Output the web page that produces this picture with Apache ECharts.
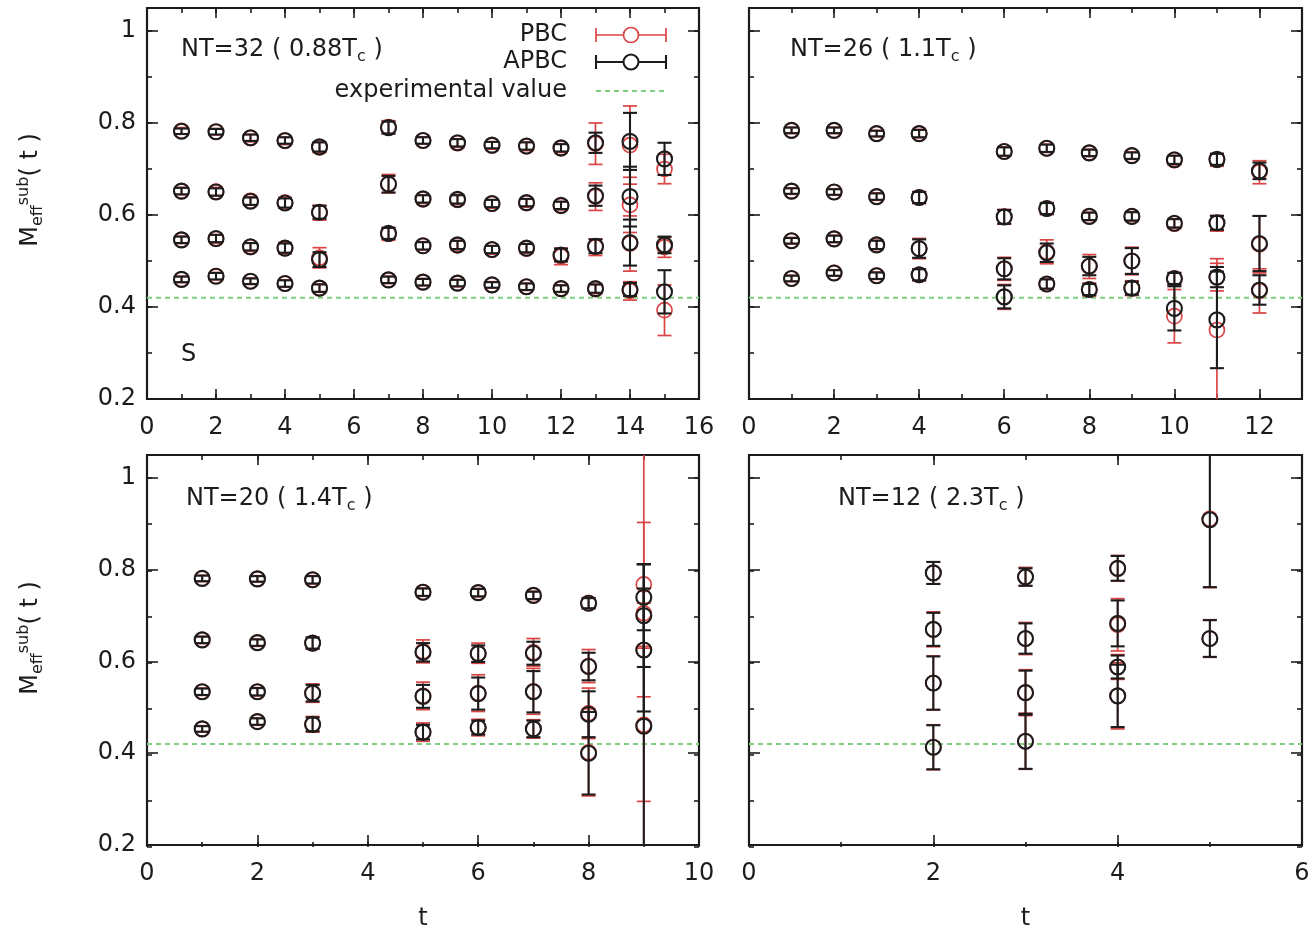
<!DOCTYPE html>
<html lang="en">
<head>
<meta charset="utf-8">
<title>Subtracted effective mass, PBC vs APBC</title>
<script src="https://cdn.jsdelivr.net/npm/echarts@6.0.0/dist/echarts.min.js"></script>
<style>
  html, body { margin: 0; padding: 0; background: #ffffff; }
  #chart { width: 1316px; height: 932px; }
</style>
</head>
<body>
<div id="chart"></div>
<script>
// ---------------------------------------------------------------
// Data: each row is [t, M_eff^sub(t), error]; four states per t.
// ---------------------------------------------------------------

// NT=32 (0.88 Tc)
const nt32Pbc = [
  [1,0.783,0.007],[2,0.781,0.007],[3,0.767,0.008],[4,0.761,0.008],[5,0.747,0.011],[7,0.791,0.014],[8,0.762,0.008],
  [9,0.756,0.009],[10,0.751,0.008],[11,0.749,0.009],[12,0.745,0.009],[13,0.755,0.045],[14,0.752,0.085],[15,0.700,0.032],
  [1,0.652,0.008],[2,0.651,0.009],[3,0.631,0.009],[4,0.627,0.011],[5,0.605,0.016],[7,0.668,0.020],[8,0.634,0.009],
  [9,0.633,0.010],[10,0.624,0.009],[11,0.626,0.009],[12,0.620,0.009],[13,0.640,0.030],[14,0.622,0.060],
  [1,0.546,0.008],[2,0.548,0.009],[3,0.530,0.009],[4,0.528,0.012],[5,0.507,0.022],[7,0.559,0.014],[8,0.533,0.009],
  [9,0.534,0.010],[10,0.524,0.009],[11,0.527,0.010],[12,0.510,0.018],[13,0.530,0.018],[14,0.538,0.060],[15,0.530,0.022],
  [1,0.460,0.007],[2,0.467,0.008],[3,0.456,0.007],[4,0.451,0.008],[5,0.441,0.009],[7,0.459,0.008],[8,0.454,0.008],
  [9,0.452,0.008],[10,0.448,0.007],[11,0.444,0.008],[12,0.440,0.008],[13,0.439,0.010],[14,0.435,0.020],[15,0.393,0.055]
];
const nt32Apbc = [
  [1,0.782,0.006],[2,0.781,0.006],[3,0.768,0.007],[4,0.762,0.007],[5,0.748,0.010],[7,0.790,0.013],[8,0.762,0.007],
  [9,0.757,0.008],[10,0.752,0.007],[11,0.750,0.008],[12,0.746,0.008],[13,0.757,0.022],[14,0.760,0.062],[15,0.722,0.035],
  [1,0.652,0.007],[2,0.650,0.008],[3,0.630,0.008],[4,0.626,0.010],[5,0.606,0.014],[7,0.667,0.018],[8,0.635,0.008],
  [9,0.634,0.009],[10,0.625,0.008],[11,0.627,0.008],[12,0.621,0.008],[13,0.642,0.022],[14,0.640,0.065],
  [1,0.546,0.007],[2,0.549,0.008],[3,0.531,0.008],[4,0.528,0.010],[5,0.503,0.016],[7,0.560,0.012],[8,0.533,0.008],
  [9,0.535,0.009],[10,0.525,0.008],[11,0.528,0.009],[12,0.513,0.014],[13,0.532,0.015],[14,0.540,0.050],[15,0.535,0.018],
  [1,0.460,0.006],[2,0.467,0.007],[3,0.456,0.006],[4,0.451,0.007],[5,0.441,0.008],[7,0.459,0.007],[8,0.454,0.007],
  [9,0.452,0.007],[10,0.448,0.006],[11,0.444,0.007],[12,0.440,0.007],[13,0.440,0.009],[14,0.438,0.014],[15,0.433,0.047]
];

// NT=26 (1.1 Tc)
const nt26Pbc = [
  [1,0.784,0.007],[2,0.784,0.007],[3,0.777,0.007],[4,0.777,0.009],[6,0.738,0.010],[7,0.745,0.009],[8,0.735,0.008],
  [9,0.729,0.008],[10,0.719,0.010],[11,0.720,0.014],[12,0.693,0.025],
  [1,0.652,0.007],[2,0.650,0.007],[3,0.640,0.008],[4,0.638,0.013],[6,0.596,0.016],[7,0.614,0.013],[8,0.597,0.009],
  [9,0.597,0.010],[10,0.581,0.010],[11,0.582,0.017],[12,0.536,0.062],
  [1,0.544,0.007],[2,0.548,0.008],[3,0.535,0.010],[4,0.527,0.022],[6,0.483,0.025],[7,0.520,0.026],[8,0.488,0.026],
  [9,0.500,0.030],[10,0.461,0.014],[11,0.465,0.030],
  [1,0.462,0.007],[2,0.474,0.007],[3,0.468,0.008],[4,0.470,0.013],[6,0.422,0.027],[7,0.450,0.011],[8,0.438,0.014],
  [9,0.441,0.016],[10,0.380,0.058],[11,0.350,0.155],[12,0.435,0.048]
];
const nt26Apbc = [
  [1,0.784,0.006],[2,0.784,0.006],[3,0.777,0.006],[4,0.777,0.008],[6,0.738,0.009],[7,0.745,0.008],[8,0.735,0.007],
  [9,0.729,0.007],[10,0.720,0.009],[11,0.721,0.012],[12,0.696,0.018],
  [1,0.652,0.006],[2,0.650,0.006],[3,0.640,0.007],[4,0.638,0.012],[6,0.596,0.015],[7,0.614,0.012],[8,0.597,0.008],
  [9,0.597,0.009],[10,0.582,0.009],[11,0.583,0.015],[12,0.538,0.060],
  [1,0.544,0.006],[2,0.548,0.007],[3,0.535,0.009],[4,0.527,0.020],[6,0.483,0.023],[7,0.518,0.020],[8,0.489,0.020],
  [9,0.500,0.028],[10,0.462,0.012],[11,0.465,0.022],
  [1,0.462,0.006],[2,0.474,0.006],[3,0.468,0.007],[4,0.470,0.012],[6,0.422,0.025],[7,0.450,0.010],[8,0.438,0.012],
  [9,0.441,0.014],[10,0.397,0.048],[11,0.372,0.105],[12,0.437,0.032]
];

// NT=20 (1.4 Tc)
const nt20Pbc = [
  [1,0.781,0.007],[2,0.780,0.007],[3,0.778,0.009],[5,0.751,0.009],[6,0.750,0.009],[7,0.744,0.009],[8,0.727,0.012],[9,0.768,0.135],
  [1,0.647,0.008],[2,0.641,0.008],[3,0.640,0.013],[5,0.622,0.025],[6,0.618,0.022],[7,0.620,0.030],[8,0.590,0.036],[9,0.705,0.600],
  [1,0.534,0.008],[2,0.534,0.009],[3,0.531,0.020],[5,0.525,0.030],[6,0.531,0.040],[7,0.535,0.050],[8,0.487,0.055],[9,0.625,0.102],
  [1,0.453,0.007],[2,0.469,0.008],[3,0.463,0.017],[5,0.446,0.020],[6,0.456,0.018],[7,0.453,0.020],[8,0.402,0.095],[9,0.462,0.167]
];
const nt20Apbc = [
  [1,0.781,0.006],[2,0.780,0.006],[3,0.778,0.008],[5,0.751,0.008],[6,0.750,0.008],[7,0.744,0.008],[8,0.727,0.011],[9,0.740,0.072],
  [1,0.647,0.007],[2,0.641,0.007],[3,0.640,0.012],[5,0.620,0.020],[6,0.617,0.018],[7,0.618,0.025],[8,0.589,0.030],[9,0.700,0.112],
  [1,0.534,0.007],[2,0.534,0.008],[3,0.531,0.018],[5,0.524,0.025],[6,0.530,0.035],[7,0.534,0.045],[8,0.485,0.050],[9,0.625,0.134],
  [1,0.453,0.006],[2,0.469,0.007],[3,0.463,0.015],[5,0.446,0.016],[6,0.456,0.015],[7,0.453,0.018],[8,0.400,0.090],[9,0.459,0.353]
];

// NT=12 (2.3 Tc)
const nt12Pbc = [
  [2,0.793,0.024],[3,0.785,0.020],[4,0.803,0.028],[5,0.911,0.150],
  [2,0.670,0.038],[3,0.650,0.035],[4,0.680,0.057],[5,0.650,0.041],
  [2,0.553,0.059],[3,0.532,0.050],[4,0.588,0.027],
  [2,0.413,0.049],[3,0.426,0.061],[4,0.525,0.072]
];
const nt12Apbc = [
  [2,0.793,0.024],[3,0.784,0.019],[4,0.803,0.027],[5,0.909,0.147],
  [2,0.670,0.036],[3,0.650,0.033],[4,0.683,0.050],[5,0.650,0.040],
  [2,0.553,0.058],[3,0.532,0.048],[4,0.588,0.025],
  [2,0.413,0.048],[3,0.426,0.060],[4,0.525,0.068]
];

// Experimental value (horizontal reference line)
const EXP_VALUE = 0.42;

// Axis ranges and panel headings
const X_MAX = [16, 13, 10, 6];
const Y_RANGE = [0.2, 1.05];
const PANEL_NT = ['NT=32', 'NT=26', 'NT=20', 'NT=12'];
const PANEL_T = ['0.88', '1.1', '1.4', '2.3'];
const LEGEND_LABELS = ['PBC', 'APBC', 'experimental value'];

// ---------------------------------------------------------------
// Styling / layout
// ---------------------------------------------------------------
const INK = '#1c1c1c';
const RED = '#dc4444';
const GREEN = '#7fcf7f';
const FONT = 'DejaVu Sans';
const FS = 24;
const RADIUS = 7.5;
const CAP = 7;

const RECTS = [
  { left: 147, top: 8, width: 552, height: 391 },
  { left: 749, top: 8, width: 553, height: 391 },
  { left: 147, top: 455, width: 552, height: 392 },
  { left: 749, top: 455, width: 553, height: 392 }
];

const PBC = [nt32Pbc, nt26Pbc, nt20Pbc, nt12Pbc];
const APBC = [nt32Apbc, nt26Apbc, nt20Apbc, nt12Apbc];

function errorBars(color, width) {
  return function (params, api) {
    const t = api.value(0), m = api.value(1), dm = api.value(2);
    const c = api.coord([t, m]);
    const hi = api.coord([t, m + dm])[1];
    const lo = api.coord([t, m - dm])[1];
    const st = { stroke: color, lineWidth: width, fill: 'none' };
    return {
      type: 'group',
      children: [
        { type: 'line', shape: { x1: c[0], y1: hi, x2: c[0], y2: lo }, style: st },
        { type: 'line', shape: { x1: c[0] - CAP, y1: hi, x2: c[0] + CAP, y2: hi }, style: st },
        { type: 'line', shape: { x1: c[0] - CAP, y1: lo, x2: c[0] + CAP, y2: lo }, style: st },
        { type: 'circle', shape: { cx: c[0], cy: c[1], r: RADIUS }, style: st }
      ]
    };
  };
}

function isMultiple(v, step) {
  const q = v / step;
  return Math.abs(q - Math.round(q)) < 1e-9;
}

// Major ticks (with labels) live on one grid, minor ticks on an overlaid twin.
function makeAxis(dim, gridIndex, position, max, min, interval, tickLen, showLabel, extra) {
  return Object.assign({
    type: 'value', gridIndex, position, min, max, interval,
    axisLine: { show: false, onZero: false },
    axisTick: { show: true, inside: true, length: tickLen, lineStyle: { color: INK, width: 1.6 } },
    minorTick: { show: false },
    splitLine: { show: false },
    axisLabel: {
      show: showLabel, fontFamily: FONT, fontSize: FS, color: INK,
      margin: dim === 'x' ? 17 : 11,
      showMaxLabel: isMultiple(max, interval),
      showMinLabel: true
    }
  }, extra || {});
}

const grids = [], xAxis = [], yAxis = [], series = [];

RECTS.forEach((r, i) => {
  grids.push(Object.assign({ show: true, borderColor: INK, borderWidth: 2.2, backgroundColor: 'transparent' }, r));
  grids.push(Object.assign({ show: false }, r));
  const gMaj = 2 * i, gMin = 2 * i + 1;
  const xm = X_MAX[i];
  const bottomRow = i >= 2;
  const leftCol = i % 2 === 0;
  const xName = bottomRow ? {
    name: 't', nameLocation: 'middle', nameGap: 62,
    nameTextStyle: { fontFamily: FONT, fontSize: FS, color: INK }
  } : {};
  xAxis.push(makeAxis('x', gMaj, 'bottom', xm, 0, 2, 10, true, xName));
  xAxis.push(makeAxis('x', gMaj, 'top', xm, 0, 2, 10, false));
  xAxis.push(makeAxis('x', gMin, 'bottom', xm, 0, 1, 5, false));
  xAxis.push(makeAxis('x', gMin, 'top', xm, 0, 1, 5, false));
  yAxis.push(makeAxis('y', gMaj, 'left', Y_RANGE[1], Y_RANGE[0], 0.2, 11, leftCol));
  yAxis.push(makeAxis('y', gMaj, 'right', Y_RANGE[1], Y_RANGE[0], 0.2, 11, false));
  yAxis.push(makeAxis('y', gMin, 'left', Y_RANGE[1], Y_RANGE[0], 0.1, 5, false));
  yAxis.push(makeAxis('y', gMin, 'right', Y_RANGE[1], Y_RANGE[0], 0.1, 5, false));

  const ax = { xAxisIndex: 4 * i, yAxisIndex: 4 * i };
  series.push(Object.assign({
    type: 'line', name: LEGEND_LABELS[2], silent: true, symbol: 'none', z: 1,
    data: [[0, EXP_VALUE], [xm, EXP_VALUE]],
    lineStyle: { color: GREEN, width: 2, type: [5, 4] }
  }, ax));
  series.push(Object.assign({
    type: 'custom', name: LEGEND_LABELS[0], clip: true, silent: true, z: 2,
    dimensions: ['t', 'm', 'dm'], encode: { x: 0, y: 1 },
    renderItem: errorBars(RED, 1.7), data: PBC[i]
  }, ax));
  series.push(Object.assign({
    type: 'custom', name: LEGEND_LABELS[1], clip: true, silent: true, z: 3,
    dimensions: ['t', 'm', 'dm'], encode: { x: 0, y: 1 },
    renderItem: errorBars(INK, 2.1), data: APBC[i]
  }, ax));
});

// Panel headings with subscripted T_c
const HEAD_POS = [[181, 50], [790, 50], [186, 499], [838, 499]];
const headRich = {
  n: { fontFamily: FONT, fontSize: FS, fill: INK, lineHeight: 30 },
  c: { fontFamily: FONT, fontSize: 16, fill: INK, lineHeight: 12, verticalAlign: 'bottom' }
};
const graphics = PANEL_NT.map((nt, i) => ({
  type: 'text', x: HEAD_POS[i][0], y: HEAD_POS[i][1], silent: true,
  style: {
    text: '{n|' + nt + ' ( ' + PANEL_T[i] + 'T}{c|c}{n| )}',
    rich: headRich, align: 'left', verticalAlign: 'middle'
  }
}));

// Small "S" tag in the first panel
graphics.push({
  type: 'text', x: 181, y: 355, silent: true,
  style: { text: 'S', fontFamily: FONT, fontSize: FS, fill: INK, align: 'left', verticalAlign: 'middle' }
});

// Rotated y-axis titles: M_eff^sub( t )
const titleRich = {
  m: { fontFamily: FONT, fontSize: FS, fill: INK, lineHeight: 30 },
  lo: { fontFamily: FONT, fontSize: 16, fill: INK, lineHeight: 18, verticalAlign: 'bottom' },
  hi: { fontFamily: FONT, fontSize: 16, fill: INK, lineHeight: 20, verticalAlign: 'top' }
};
[[31, 190], [31, 638]].forEach(p => graphics.push({
  type: 'text', x: p[0], y: p[1], rotation: Math.PI / 2, silent: true,
  style: { text: '{m|M}{lo|eff}{hi|sub}{m|( t )}', rich: titleRich, align: 'center', verticalAlign: 'middle' }
}));

// Key in the first panel
const KEY_TEXT_X = 567, KEY_X0 = 596, KEY_X1 = 666, KEY_Y = [35, 62, 91];
LEGEND_LABELS.forEach((lab, k) => {
  const y = KEY_Y[k];
  graphics.push({
    type: 'text', x: KEY_TEXT_X, y, silent: true,
    style: { text: lab, fontFamily: FONT, fontSize: FS, fill: INK, align: 'right', verticalAlign: 'middle' }
  });
  if (k < 2) {
    const col = k === 0 ? RED : INK;
    const lw = k === 0 ? 1.7 : 2.1;
    const st = { stroke: col, lineWidth: lw, fill: 'none' };
    const cx = (KEY_X0 + KEY_X1) / 2;
    graphics.push({ type: 'line', silent: true, shape: { x1: KEY_X0, y1: y, x2: KEY_X1, y2: y }, style: st });
    graphics.push({ type: 'line', silent: true, shape: { x1: KEY_X0, y1: y - CAP, x2: KEY_X0, y2: y + CAP }, style: st });
    graphics.push({ type: 'line', silent: true, shape: { x1: KEY_X1, y1: y - CAP, x2: KEY_X1, y2: y + CAP }, style: st });
    graphics.push({ type: 'circle', silent: true, shape: { cx, cy: y, r: RADIUS }, style: Object.assign({}, st, { fill: '#fff' }) });
  } else {
    graphics.push({
      type: 'line', silent: true, shape: { x1: KEY_X0, y1: y, x2: KEY_X1, y2: y },
      style: { stroke: GREEN, lineWidth: 2, lineDash: [5, 4] }
    });
  }
});

const chart = echarts.init(document.getElementById('chart'), null, { renderer: 'canvas' });
chart.setOption({
  animation: false,
  backgroundColor: '#ffffff',
  grid: grids,
  xAxis,
  yAxis,
  series,
  graphic: graphics
});
</script>
</body>
</html>
